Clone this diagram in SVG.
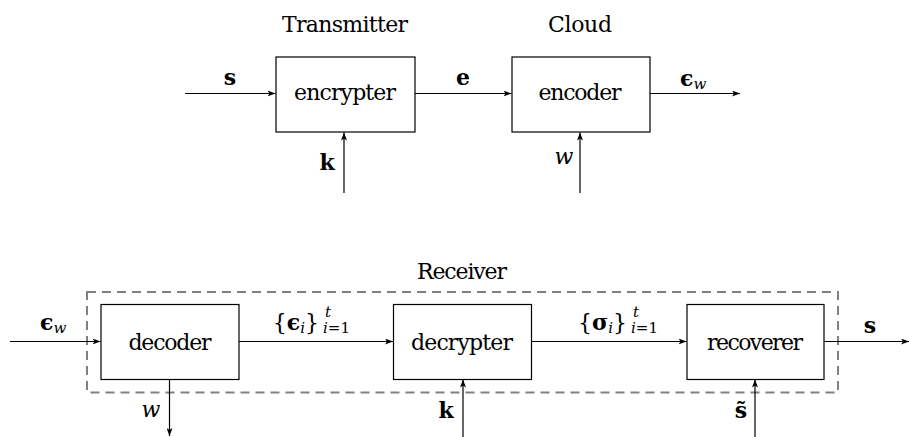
<svg xmlns="http://www.w3.org/2000/svg" width="909" height="437" viewBox="0 0 909 437">
<style>
.box{fill:#fff;stroke:#000;stroke-width:1.2}
.ln{fill:none;stroke:#000;stroke-width:1.2}
.t{font-family:"DejaVu Serif","Liberation Serif",serif;font-size:22px;fill:#000;text-anchor:middle}
.m{font-family:"DejaVu Serif","Liberation Serif",serif;font-size:22px;fill:#000;text-anchor:middle}
.st{text-anchor:start}
.en{text-anchor:end}
.b{font-weight:bold}
.i{font-style:italic}
.sub{font-size:15px}
</style>
<defs>
<marker id="ah" viewBox="0 0 8 6" refX="8" refY="3" markerWidth="8" markerHeight="6" markerUnits="userSpaceOnUse" orient="auto">
<path d="M0,0 L8,3 L0,6 L2,3 Z" fill="#000"/>
</marker>
</defs>
<rect width="909" height="437" fill="#fff"/>
<g id="receiver-frame">
<rect x="87" y="292" width="751" height="100.5" fill="none" stroke="#808080" stroke-width="2" stroke-dasharray="9,6"/>
<text class="t" x="462" y="279" textLength="90">Receiver</text>
</g>
<g id="connectors">
<line class="ln" x1="185" y1="93.5" x2="275.5" y2="93.5" marker-end="url(#ah)"/>
<line class="ln" x1="415" y1="93.5" x2="511.5" y2="93.5" marker-end="url(#ah)"/>
<line class="ln" x1="650" y1="93.5" x2="740" y2="93.5" marker-end="url(#ah)"/>
<line class="ln" x1="344" y1="193" x2="344" y2="132.5" marker-end="url(#ah)"/>
<line class="ln" x1="580" y1="193" x2="580" y2="132.5" marker-end="url(#ah)"/>
<line class="ln" x1="10" y1="341.5" x2="100.5" y2="341.5" marker-end="url(#ah)"/>
<line class="ln" x1="239" y1="341.5" x2="393" y2="341.5" marker-end="url(#ah)"/>
<line class="ln" x1="532" y1="341.5" x2="686.5" y2="341.5" marker-end="url(#ah)"/>
<line class="ln" x1="824" y1="341.5" x2="909" y2="341.5" marker-end="url(#ah)"/>
<line class="ln" x1="169.5" y1="379.5" x2="169.5" y2="436" marker-end="url(#ah)"/>
<line class="ln" x1="463" y1="437" x2="463" y2="379.5" marker-end="url(#ah)"/>
<line class="ln" x1="755" y1="437" x2="755" y2="379.5" marker-end="url(#ah)"/>
<text class="m b" x="230" y="85">s</text>
<text class="m b" x="463" y="85">e</text>
<text class="m st" x="680" y="86"><tspan class="b">ϵ</tspan><tspan class="i sub" dy="3">w</tspan></text>
<text class="m b" x="327" y="170">k</text>
<text class="m i" x="564" y="164">w</text>
<text class="m st" x="40" y="330"><tspan class="b">ϵ</tspan><tspan class="i sub" dy="3">w</tspan></text>
<text class="m en" x="319" y="330">{<tspan class="b">ϵ</tspan><tspan class="i sub" dy="3">i</tspan><tspan dy="-3">}</tspan></text>
<text class="m i sub st" x="325" y="317">t</text>
<text class="m sub st" x="323" y="333"><tspan class="i">i</tspan>=1</text>
<text class="m en" x="627" y="330">{<tspan class="b">σ</tspan><tspan class="i sub" dy="3">i</tspan><tspan dy="-3">}</tspan></text>
<text class="m i sub st" x="633" y="317">t</text>
<text class="m sub st" x="631" y="333"><tspan class="i">i</tspan>=1</text>
<text class="m b" x="870" y="333">s</text>
<text class="m i" x="151" y="417">w</text>
<text class="m b" x="446" y="418">k</text>
<text class="m b" x="741" y="418">s̃</text>
</g>
<g id="encrypter">
<rect class="box" x="276" y="57" width="139" height="75"/>
<text class="t" x="345" y="100" textLength="102">encrypter</text>
<text class="t" x="345" y="32" textLength="126">Transmitter</text>
</g>
<g id="encoder">
<rect class="box" x="512" y="57" width="138" height="75"/>
<text class="t" x="580" y="100" textLength="83">encoder</text>
<text class="t" x="580" y="32" textLength="64">Cloud</text>
</g>
<g id="decoder">
<rect class="box" x="101" y="304.5" width="138" height="75"/>
<text class="t" x="170" y="350" textLength="83">decoder</text>
</g>
<g id="decrypter">
<rect class="box" x="393.5" y="304.5" width="138" height="75"/>
<text class="t" x="462" y="350" textLength="102">decrypter</text>
</g>
<g id="recoverer">
<rect class="box" x="687" y="304.5" width="137" height="75"/>
<text class="t" x="755" y="350" textLength="96">recoverer</text>
</g>
</svg>
